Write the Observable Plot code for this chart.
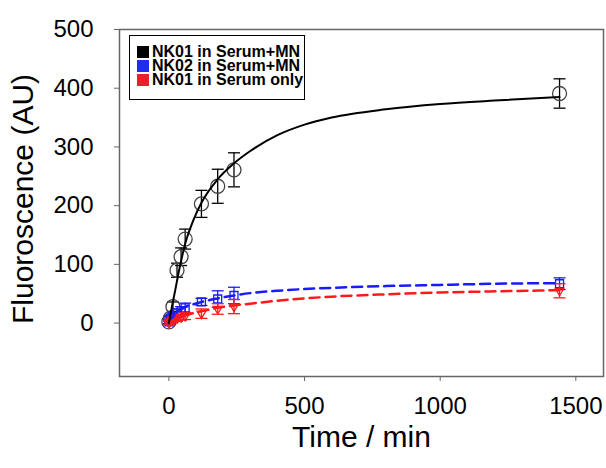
<!DOCTYPE html>
<html><head><meta charset="utf-8">
<script src="https://cdn.jsdelivr.net/npm/d3@7"></script>
<script src="https://cdn.jsdelivr.net/npm/@observablehq/plot@0.6"></script>
<style>
body{margin:0;background:#fff;}
#wrap{position:relative;width:606px;height:468px;font-family:"Liberation Sans",Arial,sans-serif;}
#legend{position:absolute;left:129px;top:35px;width:174px;height:61px;border:1px solid #000;background:#fff;box-sizing:content-box;padding-top:2px;}
.row{height:14px;line-height:14px;font-size:16px;font-weight:bold;display:flex;align-items:center;margin-left:7px;white-space:nowrap;}
.row:first-child{margin-top:7px;}
.sw{width:12px;height:12px;margin-right:3px;flex:none;}
</style></head>
<body><div id="wrap"><div id="legend"></div></div>
<script>
// ---- data ----
const times = [0, 5, 15, 30, 45, 60, 120, 180, 240, 1440];
const seriesNames = ["NK01 in Serum+MN", "NK02 in Serum+MN", "NK01 in Serum only"];
const seriesColors = ["#000000", "#1a1aff", "#ff1a1a"];
const legendColors = ["#000000", "#1f2fe8", "#e8202a"];
const nk01MN = [2, 8, 28, 90, 113, 143, 203, 233, 261, 391];
const nk01MNerr = [3, 4, 8, 12, 15, 17, 23, 29, 29, 25];
const nk02MN = [2, 8, 12, 17, 21, 26, 36, 41, 47, 67];
const nk02MNerr = [3, 4, 5, 7, 7, 8, 6, 14, 14, 10];
const nk01S = [0, 3, 6, 8, 10, 12, 16, 24, 28, 55];
const nk01Serr = [3, 3, 4, 5, 5, 6, 8, 9, 12, 12];
// fitted curves
const fitTimes = [0, 10, 20, 40, 60, 90, 120, 180, 240, 300, 400, 500, 600, 800, 1000, 1200, 1440];
const fitNK01MN = [0, 25, 48, 95, 135, 175, 205, 245, 272, 293, 320, 338, 350, 364, 373, 379, 385];
const fitNK02MN = [0, 8, 14, 21, 27, 32, 36, 42, 47, 51, 55, 58, 60, 63, 65, 67, 68];
const fitNK01S = [0, 4, 6, 10, 13, 17, 20, 26, 30, 33, 38, 42, 45, 49, 52, 54, 56];
const xTicks = [0, 500, 1000, 1500];
const yTicks = [0, 100, 200, 300, 400, 500];

// ---- tables ----
const vals = [nk01MN, nk02MN, nk01S];
const errs = [nk01MNerr, nk02MNerr, nk01Serr];
const fits = [fitNK01MN, fitNK02MN, fitNK01S];
const pts = [];
vals.forEach((arr, s) => arr.forEach((v, i) => pts.push({s, t: times[i], v, e: errs[s][i]})));
const fitRows = [];
fits.forEach((arr, s) => arr.forEach((v, i) => fitRows.push({s, t: fitTimes[i], v})));

const cap = {draw(ctx, size){ const w = Math.sqrt(size/Math.PI); ctx.moveTo(-w,0); ctx.lineTo(w,0);} };
const triDown = {draw(ctx, size){ const r = Math.sqrt(size/Math.PI); ctx.moveTo(0, r); ctx.lineTo(-0.866*r, -0.5*r); ctx.lineTo(0.866*r, -0.5*r); ctx.closePath();} };
const markerStroke = ["#444", "#1a1aff", "#ff1a1a"];

const marks = [
  Plot.frame({stroke: "#666", strokeWidth: 1.5}),
  Plot.axisX({ticks: xTicks, tickSize: 5, tickPadding: 15, fontSize: 24, stroke: "#666", label: null, tickFormat: d => String(d)}),
  Plot.axisY({ticks: yTicks, tickSize: 5, tickPadding: 21, fontSize: 24, stroke: "#666", label: null, tickFormat: d => String(d)}),
  Plot.text(["Time / min"], {frameAnchor: "bottom", lineAnchor: "bottom", dy: 70, fontSize: 30}),
  Plot.text(["Fluoroscence (AU)"], {frameAnchor: "left", textAnchor: "middle", lineAnchor: "middle", rotate: -90, dx: -96, dy: -4, fontSize: 30})
];
[0, 1, 2].forEach(s => {
  const d = pts.filter(p => p.s === s);
  marks.push(Plot.ruleX(d, {x: "t", y1: p => p.v - p.e, y2: p => p.v + p.e, stroke: seriesColors[s], strokeWidth: 1.3}));
  marks.push(Plot.dot(d, {x: "t", y: p => p.v + p.e, symbol: cap, r: 6, stroke: seriesColors[s], strokeWidth: 1.3}));
  marks.push(Plot.dot(d, {x: "t", y: p => p.v - p.e, symbol: cap, r: 6, stroke: seriesColors[s], strokeWidth: 1.3}));
  const sym = s === 0 ? "circle" : s === 1 ? "square" : triDown;
  const r = s === 0 ? 7 : s === 1 ? 4.5 : 5;
  marks.push(Plot.dot(d, {x: "t", y: "v", symbol: sym, r, stroke: markerStroke[s], strokeWidth: 1.3, fill: "none"}));
});
[1, 2, 0].forEach(s => {
  marks.push(Plot.line(fitRows.filter(p => p.s === s), {x: "t", y: "v", stroke: seriesColors[s], strokeWidth: s === 0 ? 2 : 2.5, strokeDasharray: s === 0 ? null : "10,6", curve: "monotone-x"}));
});

const chart = Plot.plot({
  width: 606, height: 468,
  marginLeft: 119, marginRight: 3, marginTop: 29, marginBottom: 92,
  style: {fontFamily: "Liberation Sans, Arial, sans-serif", background: "#fff", color: "#000"},
  x: {domain: [-182, 1602]},
  y: {domain: [-91, 500]},
  marks
});
const wrap = document.getElementById("wrap");
wrap.insertBefore(chart, wrap.firstChild);
const lg = document.getElementById("legend");
seriesNames.forEach((n, i) => {
  const row = document.createElement("div"); row.className = "row";
  const sw = document.createElement("span"); sw.className = "sw"; sw.style.background = legendColors[i];
  row.appendChild(sw); row.appendChild(document.createTextNode(n));
  lg.appendChild(row);
});
</script></body></html>
